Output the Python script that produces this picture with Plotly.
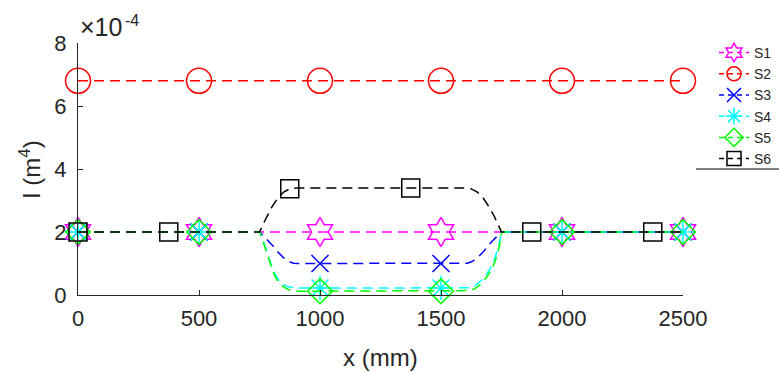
import plotly.graph_objects as go

# Second moment of area I along the member, in units of 1e-4 m^4
x_s1 = [0, 500, 750, 1000, 1500, 1750, 2000, 2500]
i_s1 = [2.0, 2.0, 2.0, 2.0, 2.0, 2.0, 2.0, 2.0]

x_s2 = [0, 500, 1000, 1500, 2000, 2500]
i_s2 = [6.8, 6.8, 6.8, 6.8, 6.8, 6.8]

x_s3 = [0, 500, 750, 770, 790, 810, 830, 850, 870, 890, 910, 1000, 1500,
        1590, 1610, 1630, 1650, 1670, 1690, 1710, 1730, 1750, 2000, 2500]
i_s3 = [2.0, 2.0, 2.0, 1.85, 1.7, 1.52, 1.33, 1.18, 1.07, 1.01, 1.0, 1.0, 1.0,
        1.0, 1.01, 1.07, 1.18, 1.33, 1.52, 1.7, 1.85, 2.0, 2.0, 2.0]

x_s4 = [0, 500, 750, 757, 768, 783, 798, 813, 828, 843, 863, 883, 900, 1000, 1500,
        1600, 1620, 1638, 1652, 1667, 1687, 1706, 1722, 1735, 1743, 1750, 2000, 2500]
i_s4 = [2.0, 2.0, 2.0, 1.9, 1.68, 1.32, 0.98, 0.68, 0.49, 0.37, 0.27, 0.23, 0.22, 0.22, 0.22,
        0.22, 0.23, 0.28, 0.36, 0.47, 0.65, 0.88, 1.15, 1.48, 1.72, 2.0, 2.0, 2.0]

x_s5 = [0, 500, 750, 755, 765, 780, 795, 810, 825, 840, 860, 880, 900, 1000, 1500,
        1600, 1620, 1640, 1655, 1670, 1690, 1710, 1725, 1738, 1745, 1750, 2000, 2500]
i_s5 = [2.0, 2.0, 2.0, 1.92, 1.68, 1.32, 0.97, 0.65, 0.45, 0.32, 0.2, 0.14, 0.12, 0.12, 0.12,
        0.12, 0.14, 0.2, 0.28, 0.4, 0.58, 0.82, 1.1, 1.45, 1.7, 2.0, 2.0, 2.0]

x_s6 = [0, 375, 750, 765, 780, 800, 825, 850, 875, 900, 1375,
        1600, 1625, 1650, 1675, 1700, 1720, 1735, 1750, 1875, 2375, 2500]
i_s6 = [2.0, 2.0, 2.0, 2.25, 2.5, 2.78, 3.07, 3.27, 3.37, 3.4, 3.4,
        3.4, 3.37, 3.27, 3.07, 2.78, 2.5, 2.25, 2.0, 2.0, 2.0, 2.0]

# Stations where each series shows its marker
marks_std = [0, 500, 1000, 1500, 2000, 2500]
marks_s6 = [0, 375, 875, 1375, 1875, 2375]

series = [
    dict(name="S1", x=x_s1, y=i_s1, marks=marks_std, color="#FF00FF",
         symbol="hexagram-open", size=22),
    dict(name="S2", x=x_s2, y=i_s2, marks=marks_std, color="#FF0000",
         symbol="circle-open", size=25),
    dict(name="S3", x=x_s3, y=i_s3, marks=marks_std, color="#0000FF",
         symbol="x-thin-open", size=17),
    dict(name="S4", x=x_s4, y=i_s4, marks=marks_std, color="#00FFFF",
         symbol="asterisk-open", size=20),
    dict(name="S5", x=x_s5, y=i_s5, marks=marks_std, color="#00FF00",
         symbol="diamond-open", size=19),
    dict(name="S6", x=x_s6, y=i_s6, marks=marks_s6, color="#000000",
         symbol="square-open", size=18),
]

DASH = "10px,6px"
LW = 1.5
AXC = "#262626"
FONT = "Liberation Sans, Arial, sans-serif"

# plot area in pixels
L, R, T, B = 78, 96, 43, 77
PW, PH = 779 - L - R, 372 - T - B


def px_x(p):
    return (p - L) / PW


def px_y(p):
    return (372 - B - p) / PH


fig = go.Figure()
for s in series:
    lookup = dict(zip(s["x"], s["y"]))
    mx = list(s["marks"])
    my = [lookup[v] for v in s["marks"]]
    marker = dict(symbol=s["symbol"], size=s["size"], color=s["color"],
                  line=dict(color=s["color"], width=LW))
    fig.add_trace(go.Scatter(x=s["x"], y=s["y"], mode="lines", showlegend=False,
                             line=dict(color=s["color"], width=LW, dash=DASH),
                             legendgroup=s["name"], hoverinfo="skip"))
    fig.add_trace(go.Scatter(x=mx, y=my, mode="markers", showlegend=False,
                             marker=marker, cliponaxis=False,
                             legendgroup=s["name"]))
    fig.add_trace(go.Scatter(x=[None], y=[None], mode="lines+markers", name=s["name"],
                             line=dict(color=s["color"], width=LW, dash="5px,4px"),
                             marker=dict(symbol=s["symbol"], size=14, color=s["color"],
                                         line=dict(color=s["color"], width=LW)),
                             legendgroup=s["name"]))

axis_common = dict(showgrid=False, zeroline=False, showline=True, linecolor=AXC,
                   linewidth=1, ticks="inside", ticklen=5, tickcolor=AXC, tickwidth=1,
                   automargin=False,
                   tickfont=dict(family=FONT, size=22, color=AXC))

fig.update_xaxes(range=[0, 2500], tickvals=[0, 500, 1000, 1500, 2000, 2500],
                 ticklabelstandoff=4, **axis_common)
fig.update_yaxes(range=[0, 8], tickvals=[0, 2, 4, 6, 8],
                 ticklabelstandoff=6, **axis_common)

fig.update_layout(
    width=779, height=372,
    margin=dict(l=L, r=R, t=T, b=B, autoexpand=False),
    plot_bgcolor="white", paper_bgcolor="white",
    font=dict(family=FONT, color=AXC),
    legend=dict(xref="paper", yref="paper", x=px_x(714), y=px_y(37),
                xanchor="left", yanchor="top", bgcolor="rgba(255,255,255,0)",
                borderwidth=0, font=dict(family=FONT, size=14, color=AXC),
                itemwidth=30, tracegroupgap=0),
    annotations=[
        dict(text="x (mm)", xref="paper", yref="paper", x=0.5, y=px_y(357),
             xanchor="center", yanchor="middle", showarrow=False,
             font=dict(family=FONT, size=24, color=AXC)),
        dict(text="I (m<sup>4</sup>)", xref="paper", yref="paper",
             x=px_x(30), y=px_y(170), textangle=-90,
             xanchor="center", yanchor="middle", showarrow=False,
             font=dict(family=FONT, size=24, color=AXC)),
        # axis exponent, written as base and superscript
        dict(text="\u00d710", xref="paper", yref="paper",
             x=px_x(78), y=px_y(27),
             xanchor="left", yanchor="middle", showarrow=False,
             font=dict(family=FONT, size=25, color=AXC)),
        dict(text="-4", xref="paper", yref="paper",
             x=px_x(123), y=px_y(20),
             xanchor="left", yanchor="middle", showarrow=False,
             font=dict(family=FONT, size=16, color=AXC)),
    ],
    shapes=[
        dict(type="line", xref="paper", yref="paper",
             x0=px_x(696), x1=px_x(779),
             y0=px_y(169), y1=px_y(169),
             line=dict(color="#000000", width=1)),
    ],
)

fig.write_html("out.html")
